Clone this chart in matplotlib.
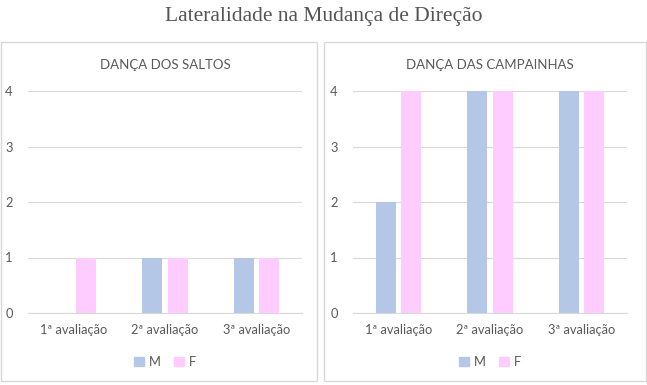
import numpy as np
import matplotlib
matplotlib.use('Agg')
import matplotlib.pyplot as plt
from matplotlib.patches import Rectangle, Patch

categories = ['1ª avaliação', '2ª avaliação', '3ª avaliação']
saltos_m = [0, 1, 1]
saltos_f = [1, 1, 1]
campainhas_m = [2, 4, 4]
campainhas_f = [4, 4, 4]
panel_titles = ['DANÇA DOS SALTOS', 'DANÇA DAS CAMPAINHAS']
series_labels = ['M', 'F']

col_m = '#B4C7E7'
col_f = '#FFCCFF'
txt = '#595959'
grid = '#D9D9D9'

W, H = 647, 385
fig = plt.figure(figsize=(W / 100, H / 100), dpi=100)

fig.text(0.5, 1 - 16 / H, 'Lateralidade na Mudança de Direção', ha='center', va='center',
         fontsize=15.5, family='Liberation Serif', color='#555555')

panels = [
    (1, 317, 28, saltos_m, saltos_f),
    (324, 646, 353, campainhas_m, campainhas_f),
]

x = np.arange(len(categories))
bw = 0.22
off = 0.1375

for i, (px0, px1, ax_x, m, f) in enumerate(panels):
    fig.patches.append(Rectangle((px0 / W, 1 - 381 / H), (px1 - px0) / W, (381 - 42) / H,
                                 transform=fig.transFigure, fill=False, edgecolor=grid, lw=1))
    ax = fig.add_axes([ax_x / W, (H - 313) / H, 274 / W, 222 / H])
    ax.bar(x - off, m, bw, color=col_m, zorder=3)
    ax.bar(x + off, f, bw, color=col_f, zorder=3)
    ax.set_xlim(-0.5, 2.5)
    ax.set_ylim(0, 4)
    ax.set_yticks([0, 1, 2, 3, 4])
    ax.set_xticks(x)
    ax.set_xticklabels(categories)
    ax.tick_params(length=0, labelsize=9.3, labelcolor=txt)
    for lab in ax.get_xticklabels() + ax.get_yticklabels():
        lab.set_family('Lato')
    ax.tick_params(axis='x', pad=8)
    ax.tick_params(axis='y', pad=11)
    ax.grid(axis='y', color=grid, lw=0.8, zorder=0)
    for s in ['top', 'right', 'left']:
        ax.spines[s].set_visible(False)
    ax.spines['bottom'].set_color(grid)
    cx = (ax_x + 137) / W
    fig.text(cx, 1 - 65 / H, panel_titles[i], ha='center', va='center',
             fontsize=9.5, family='Lato', color=txt)
    handles = [Patch(color=col_m, label=series_labels[0]), Patch(color=col_f, label=series_labels[1])]
    fig.legend(handles=handles, loc='center', bbox_to_anchor=(cx, 23 / H), ncol=2, frameon=False,
               prop={'family': 'Lato', 'size': 9.3}, handlelength=0.8, handleheight=0.8,
               handletextpad=0.4, columnspacing=1.0, labelcolor=txt)

plt.savefig('out.png', dpi=100)
